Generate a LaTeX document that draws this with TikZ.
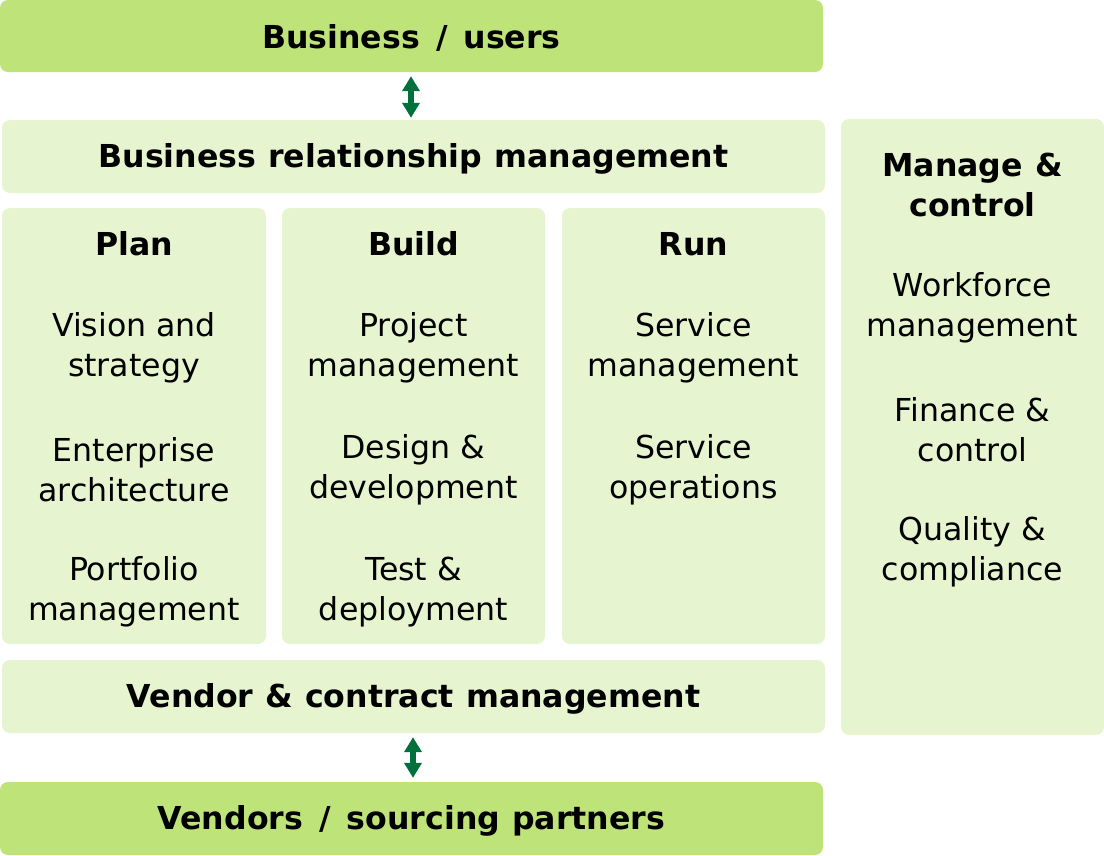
\documentclass[tikz,border=0pt]{standalone}
\usepackage{fontspec}
\setmainfont{DejaVu Sans}[BoldFeatures={WordSpace=1.1}]
\usetikzlibrary{arrows.meta}
\definecolor{strong}{RGB}{190,228,121}
\definecolor{pale}{RGB}{230,245,208}
\definecolor{arr}{RGB}{0,112,60}
\tikzset{
  box/.style={fill=#1, draw=none, rounded corners=8pt, inner sep=0pt},
  txt/.style={font=\fontsize{31.6}{40}\selectfont, align=center, inner sep=0pt, text=black},
  btxt/.style={font=\fontsize{31.6}{40}\selectfont\bfseries, align=center, inner sep=0pt, text=black},
  dbl/.style={draw=arr, line width=5.5pt, {Triangle[width=17pt,length=15pt]}-{Triangle[width=17pt,length=15pt]}}
}
\begin{document}
\begin{tikzpicture}[x=1pt,y=-1pt]
\useasboundingbox (0,0) rectangle (1104,855);
% boxes
\node[box=strong, minimum width=823pt, minimum height=72pt] (bu) at (411.5,36) {};
\node[box=pale, minimum width=823pt, minimum height=73pt] (brm) at (413.5,156.5) {};
\node[box=pale, minimum width=264pt, minimum height=436pt] (plan) at (134,426) {};
\node[box=pale, minimum width=263pt, minimum height=436pt] (build) at (413.5,426) {};
\node[box=pale, minimum width=263pt, minimum height=436pt] (run) at (693.5,426) {};
\node[box=pale, minimum width=823pt, minimum height=73pt] (vcm) at (413.5,696.5) {};
\node[box=strong, minimum width=823pt, minimum height=73pt] (vsp) at (411.5,818.5) {};
\node[box=pale, minimum width=263pt, minimum height=616pt] (mc) at (972.5,427) {};
% arrows
\draw[dbl, shorten <=4pt, shorten >=2pt] (bu.south -| 411,0) -- (brm.north -| 411,0);
\draw[dbl, shorten <=4pt, shorten >=4pt] (vcm.south -| 413,0) -- (vsp.north -| 413,0);
% texts
\node[btxt] (tbu) at (411.5,38) {Business \hspace{4pt}/\hspace{4pt} users};
\node[btxt] (tbrm) at (413.5,159) {Business relationship management};
\node[btxt] (tvcm) at (413.5,698.5) {Vendor \& contract management};
\node[btxt] (tvsp) at (411.5,820.5) {Vendors \hspace{4pt}/\hspace{4pt} sourcing partners};
\node[btxt] (tplan) at (134,244) {Plan};
\node[btxt] (tbuild) at (413.5,244) {Build};
\node[btxt] (trun) at (693.5,244) {Run};
\node[btxt] (tmc) at (972.5,185) {Manage \&\\control};
% plan
\node[txt] (p1) at (134,348) {Vision and\\strategy};
\node[txt] (p2) at (134,470) {Enterprise\\architecture};
\node[txt] (p3) at (134,592) {Portfolio\\management};
% build
\node[txt] (b1) at (413.5,348) {Project\\management};
\node[txt] (b2) at (413.5,470) {Design \&\\development};
\node[txt] (b3) at (413.5,592) {Test \&\\deployment};
% run
\node[txt] (r1) at (693.5,348) {Service\\management};
\node[txt] (r2) at (693.5,470) {Service\\operations};
% manage
\node[txt] (m1) at (972.5,308) {Workforce\\management};
\node[txt] (m2) at (972.5,430) {Finance \&\\control};
\node[txt] (m3) at (972.5,552) {Quality \&\\compliance};
\end{tikzpicture}
\end{document}
